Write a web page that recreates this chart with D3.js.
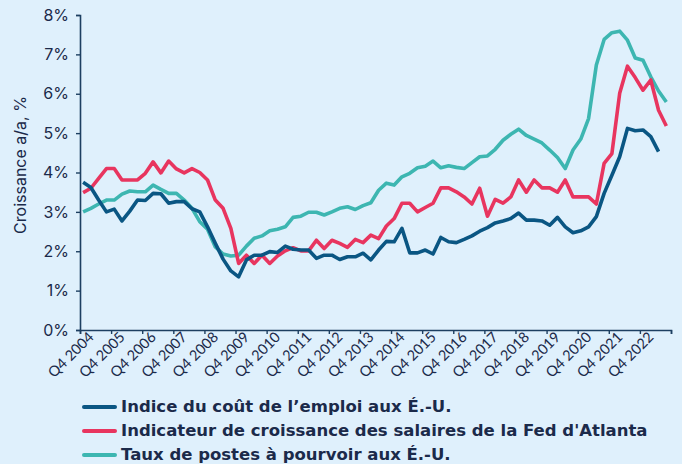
<!DOCTYPE html>
<html>
<head>
<meta charset="utf-8">
<script src="https://cdn.jsdelivr.net/npm/d3@7"></script>
<style>
  html, body { margin: 0; padding: 0; background: #dff0fc; }
  svg { display: block; }
</style>
</head>
<body>
<div class="linechart" data-width="682" data-height="464"></div>
<script>
// Quarterly year-over-year growth, %, starting Q4 2004
var tickLabels = ["Q4 2004", "Q4 2005", "Q4 2006", "Q4 2007", "Q4 2008", "Q4 2009",
    "Q4 2010", "Q4 2011", "Q4 2012", "Q4 2013", "Q4 2014", "Q4 2015", "Q4 2016",
    "Q4 2017", "Q4 2018", "Q4 2019", "Q4 2020", "Q4 2021", "Q4 2022"];

var seriesNames = [
    "Indice du coût de l’emploi aux É.-U.",
    "Indicateur de croissance des salaires de la Fed d'Atlanta",
    "Taux de postes à pourvoir aux É.-U."
];

var eci = [3.75, 3.62, 3.30, 3.00, 3.07, 2.77, 3.02, 3.30, 3.29, 3.47,
    3.46, 3.22, 3.26, 3.26, 3.08, 3.00, 2.62, 2.20, 1.80, 1.50,
    1.35, 1.78, 1.90, 1.90, 1.99, 1.97, 2.13, 2.05, 2.03, 2.03,
    1.82, 1.90, 1.90, 1.79, 1.86, 1.86, 1.95, 1.78, 2.03, 2.25,
    2.24, 2.58, 1.96, 1.96, 2.03, 1.93, 2.35, 2.24, 2.22, 2.30,
    2.39, 2.51, 2.60, 2.72, 2.77, 2.83, 2.97, 2.79, 2.79, 2.77,
    2.66, 2.86, 2.62, 2.47, 2.52, 2.62, 2.88, 3.47, 3.93, 4.40,
    5.12, 5.06, 5.08, 4.91, 4.53];

var atlanta = [3.49, 3.60, 3.85, 4.10, 4.10, 3.81, 3.81, 3.81, 3.98, 4.27,
    3.99, 4.29, 4.09, 3.99, 4.10, 4.00, 3.81, 3.30, 3.09, 2.58,
    1.69, 1.90, 1.69, 1.90, 1.69, 1.88, 2.01, 2.09, 2.01, 2.01,
    2.28, 2.07, 2.28, 2.20, 2.10, 2.30, 2.22, 2.41, 2.32, 2.64,
    2.83, 3.22, 3.22, 3.00, 3.11, 3.22, 3.61, 3.61, 3.51, 3.38,
    3.20, 3.60, 2.89, 3.32, 3.22, 3.38, 3.81, 3.50, 3.81, 3.61,
    3.61, 3.50, 3.81, 3.38, 3.38, 3.38, 3.20, 4.23, 4.48, 6.01,
    6.70, 6.41, 6.09, 6.35, 5.58, 5.18];

var jobOpenings = [3.00, 3.09, 3.20, 3.30, 3.30, 3.45, 3.53, 3.51, 3.51, 3.68,
    3.57, 3.47, 3.47, 3.30, 3.09, 2.75, 2.56, 2.11, 1.93, 1.88,
    1.90, 2.13, 2.33, 2.39, 2.52, 2.56, 2.62, 2.86, 2.89, 2.99,
    2.99, 2.92, 3.00, 3.09, 3.13, 3.06, 3.16, 3.23, 3.55, 3.73,
    3.68, 3.89, 3.98, 4.12, 4.16, 4.29, 4.12, 4.17, 4.13, 4.10,
    4.25, 4.40, 4.42, 4.59, 4.82, 4.97, 5.10, 4.94, 4.85, 4.75,
    4.57, 4.38, 4.10, 4.57, 4.85, 5.37, 6.73, 7.38, 7.55, 7.59,
    7.36, 6.91, 6.85, 6.43, 6.07, 5.79];

var yTicks = [0, 1, 2, 3, 4, 5, 6, 7, 8];

var colors = ["#0a5683", "#e8355f", "#3db6b1"];
var ink = "#1b2a4a";

var $this = d3.select('.linechart');
var width = +$this.attr('data-width'),
    height = +$this.attr('data-height');

var margin = {top: 15, right: 11, bottom: 134, left: 80};
var w = width - margin.left - margin.right,
    h = height - margin.top - margin.bottom;

var nQuarters = tickLabels.length * 4;  // axis runs to Q4 2023
var x = d3.scaleLinear().domain([0, nQuarters]).range([0, w]);
var y = d3.scaleLinear().domain([0, 8]).range([h, 0]);

var svg = $this.append("svg")
    .attr("width", width)
    .attr("height", height)
    .style("background", "#dff0fc");

var g = svg.append("g")
    .attr("transform", "translate(" + margin.left + "," + margin.top + ")");

// y axis
var yAxis = g.append("g")
    .call(d3.axisLeft(y).tickValues(yTicks).tickSize(4).tickPadding(7)
        .tickFormat(function(d) { return d + "%"; }));
yAxis.select(".domain").attr("stroke", "#1d3f61").attr("stroke-width", 1.6);
yAxis.selectAll(".tick line").attr("stroke", "#1d3f61").attr("stroke-width", 1.4);
yAxis.selectAll("text")
    .attr("fill", ink)
    .style("font-family", "Inter, 'Noto Sans', sans-serif")
    .style("font-size", "16px");

// x axis
var xAxis = g.append("g")
    .attr("transform", "translate(0," + h + ")")
    .call(d3.axisBottom(x).tickValues(d3.range(0, nQuarters + 1, 4)).tickSize(4)
        .tickFormat(function(d) { return tickLabels[d / 4] || ""; }));
xAxis.select(".domain").attr("stroke", "#1d3f61").attr("stroke-width", 1.6);
xAxis.selectAll(".tick line").attr("stroke", "#1d3f61").attr("stroke-width", 1.4);
xAxis.selectAll("text")
    .attr("fill", ink)
    .style("font-family", "Lato, 'Open Sans', sans-serif")
    .style("font-size", "14.5px")
    .style("text-anchor", "end")
    .attr("dx", "0.3em")
    .attr("dy", "0.6em")
    .attr("transform", "rotate(-45)");

// y axis title
svg.append("text")
    .attr("transform", "translate(26,165) rotate(-90)")
    .attr("text-anchor", "middle")
    .attr("fill", ink)
    .style("font-family", "Inter, 'Noto Sans', sans-serif")
    .style("font-size", "16px")
    .text("Croissance a/a, %");

// lines: points sit a little inside each quarter
var line = d3.line()
    .x(function(d, i) { return x(i + 0.4); })
    .y(function(d) { return y(d); });

var series = [eci, atlanta, jobOpenings];
var order = [2, 1, 0];

g.append("g").attr("class", "lines")
    .selectAll("path")
    .data(order)
    .enter().append("path")
    .attr("d", function(k) { return line(series[k]); })
    .attr("fill", "none")
    .attr("stroke", function(k) { return colors[k]; })
    .attr("stroke-width", 3.6)
    .attr("stroke-linejoin", "round");

// legend
var legend = svg.append("g")
    .attr("transform", "translate(84,407)");

var items = legend.selectAll("g")
    .data(seriesNames)
    .enter().append("g")
    .attr("transform", function(d, i) { return "translate(0," + i * 24 + ")"; });

items.append("line")
    .attr("x1", 0).attr("x2", 31)
    .attr("stroke", function(d, i) { return colors[i]; })
    .attr("stroke-width", 4)
    .attr("stroke-linecap", "round");

items.append("text")
    .attr("x", 37)
    .attr("y", 5)
    .attr("fill", ink)
    .style("font-family", "'DejaVu Sans', sans-serif")
    .style("font-weight", "bold")
    .style("font-size", "16.5px")
    .text(function(d) { return d; });
</script>
</body>
</html>
